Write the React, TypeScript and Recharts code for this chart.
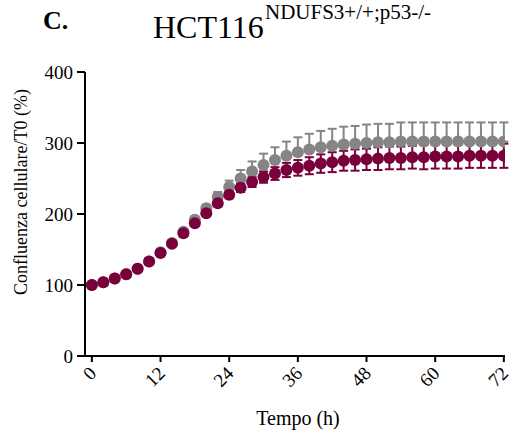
import { LineChart, Line, XAxis, YAxis, ErrorBar } from 'recharts'

// time points (h)
const hours = [0, 2, 4, 6, 8, 10, 12, 14, 16, 18, 20, 22, 24, 26, 28, 30, 32, 34, 36, 38, 40, 42, 44, 46, 48, 50, 52, 54, 56, 58, 60, 62, 64, 66, 68, 70, 72]

// grey series (drawn behind), only upper error visible
const greyMean = [100, 104, 109, 115, 123, 133, 146, 159, 175, 192, 208, 224, 238, 250, 260, 269, 276, 282, 287, 291, 294, 296, 298, 299, 300, 301, 301, 302, 302, 302, 302, 302, 302, 302, 302, 302, 302]
const greyErr = [1, 1, 1, 1, 1, 2, 2, 3, 3, 4, 5, 7, 9, 12, 14, 16, 18, 20, 21, 22, 23, 24, 25, 25, 26, 26, 26, 27, 27, 27, 27, 27, 27, 27, 27, 27, 27]

// maroon series (drawn on top)
const maroonMean = [100, 104, 109, 115, 123, 133, 145, 158, 173, 187, 201, 215, 227, 237, 245, 252, 257, 262, 265, 268, 271, 273, 275, 276, 277, 278, 279, 279, 280, 280, 281, 281, 281, 282, 282, 282, 282]
const maroonErr = [1, 1, 1, 1, 1, 1, 2, 2, 2, 3, 3, 4, 5, 6, 7, 8, 9, 10, 11, 12, 13, 14, 14, 15, 15, 16, 16, 16, 16, 17, 17, 17, 17, 17, 17, 17, 17]

const xTicks = [0, 12, 24, 36, 48, 60, 72]
const yTicks = [0, 100, 200, 300, 400]

const GREY = '#858585'
const MAROON = '#7a003c'
const FONT = 'Liberation Serif'

const data = hours.map((h, i) => ({
  h,
  grey: greyMean[i],
  greyErr: [0, greyErr[i]],
  maroon: maroonMean[i],
  maroonErr: maroonErr[i],
}))

function XTick({ x, y, payload }: any) {
  const px = x + 1
  const py = y + 6
  return (
    <text
      x={px}
      y={py}
      transform={`rotate(-45 ${px} ${py})`}
      textAnchor="end"
      dominantBaseline="central"
      fontFamily={FONT}
      fontSize={19}
      fill="#000"
    >
      {payload.value}
    </text>
  )
}

export default function App() {
  return (
    <div style={{ position: 'relative', width: 513, height: 436, background: '#fff' }}>
      <style>{`body{margin:0}`}</style>
      <LineChart width={513} height={436} data={data} margin={{ top: 72, right: 8, bottom: 0, left: 0 }}>
        <XAxis
          dataKey="h"
          type="number"
          domain={[-1.2, 72.2]}
          ticks={xTicks}
          allowDataOverflow
          height={80}
          axisLine={{ stroke: '#000', strokeWidth: 2 }}
          tickLine={{ stroke: '#000', strokeWidth: 2 }}
          tickSize={6}
          tickMargin={2}
          tick={<XTick />}
          interval={0}
        />
        <YAxis
          type="number"
          domain={[0, 400]}
          ticks={yTicks}
          width={85}
          axisLine={{ stroke: '#000', strokeWidth: 2 }}
          tickLine={{ stroke: '#000', strokeWidth: 2 }}
          tickSize={8}
          tickMargin={4}
          tick={{ fill: '#000', fontSize: 19, fontFamily: FONT }}
          interval={0}
        />
        <Line
          dataKey="grey"
          stroke="none"
          dot={{ r: 6, fill: GREY, stroke: 'none' }}
          activeDot={false}
          isAnimationActive={false}
        >
          <ErrorBar dataKey="greyErr" direction="y" width={4.5} stroke={GREY} strokeWidth={2} />
        </Line>
        <Line
          dataKey="maroon"
          stroke="none"
          dot={{ r: 6, fill: MAROON, stroke: 'none' }}
          activeDot={false}
          isAnimationActive={false}
        >
          <ErrorBar dataKey="maroonErr" direction="y" width={4.5} stroke={MAROON} strokeWidth={2} />
        </Line>
      </LineChart>
      <svg
        width={513}
        height={436}
        style={{ position: 'absolute', left: 0, top: 0, pointerEvents: 'none' }}
      >
        <text x={43} y={29} fontFamily={FONT} fontSize={26} fontWeight="bold" fill="#000">C.</text>
        <text x={153} y={38} fontFamily={FONT} fontSize={32} fill="#000">HCT116</text>
        <text x={265} y={19} fontFamily={FONT} fontSize={21} fill="#000">NDUFS3+/+;p53-/-</text>
        <text
          x={21}
          y={192}
          transform="rotate(-90 21 192)"
          textAnchor="middle"
          dominantBaseline="central"
          fontFamily={FONT}
          fontSize={18}
          fill="#000"
        >
          Confluenza cellulare/T0 (%)
        </text>
        <text x={298} y={425} textAnchor="middle" fontFamily={FONT} fontSize={20} fill="#000">
          Tempo (h)
        </text>
      </svg>
    </div>
  )
}
